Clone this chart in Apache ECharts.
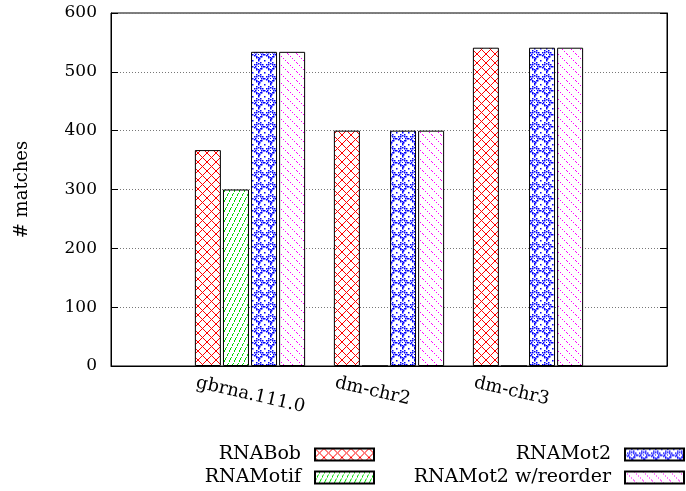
<!DOCTYPE html>
<html>
<head>
<meta charset="utf-8">
<script src="https://cdn.jsdelivr.net/npm/echarts@6/dist/echarts.min.js"></script>
<style>
html,body{margin:0;padding:0;background:#fff;}
#main{width:686px;height:491px;}
</style>
</head>
<body>
<div id="main"></div>
<script>
// ---- data ----
const categories = ['gbrna.111.0', 'dm-chr2', 'dm-chr3'];
const seriesNames = ['RNABob', 'RNAMotif', 'RNAMot2', 'RNAMot2 w/reorder'];
const rnaBob = [367, 400, 541];
const rnaMotif = [300, 0, 0];
const rnaMot2 = [534, 400, 541];
const rnaMot2Reorder = [534, 400, 541];
const yTicks = [0, 100, 200, 300, 400, 500, 600];

// ---- patterns ----
function makeCanvas(w, h, draw) {
  const c = document.createElement('canvas');
  c.width = w; c.height = h;
  const ctx = c.getContext('2d');
  ctx.fillStyle = '#fff';
  ctx.fillRect(0, 0, w, h);
  draw(ctx, w, h);
  return c;
}
const patBob = makeCanvas(9, 9, (ctx, w, h) => {
  ctx.strokeStyle = '#ff0000'; ctx.lineWidth = 1;
  ctx.beginPath();
  ctx.moveTo(0, 0); ctx.lineTo(w, h);
  ctx.moveTo(w, 0); ctx.lineTo(0, h);
  ctx.stroke();
});
const patMotif = makeCanvas(5, 10, (ctx, w, h) => {
  ctx.fillStyle = '#00dd00';
  for (let i = 0; i < 10; i++) {
    if (i % 4 === 3) continue;
    const y = h - 1 - i;
    const x = Math.floor(i * w / h);
    ctx.fillRect(x, y, 1, 1);
  }
});
const patMot2 = makeCanvas(12, 12, (ctx, w, h) => {
  ctx.fillStyle = '#0000ff';
  for (let i = 0; i < 6; i += 2) {
    ctx.fillRect(6 + i, i, 1.5, 1.5);
    ctx.fillRect(11 - i, 6 + i, 1.5, 1.5);
    ctx.fillRect(6 - i, 11 - i, 1.5, 1.5);
    ctx.fillRect(i, 6 - i, 1.5, 1.5);
  }
  const pts = [[6,3],[9,6],[6,9],[3,6],[4,4],[8,4],[4,8],[8,8]];
  pts.forEach(p => ctx.fillRect(p[0], p[1], 1.5, 1.5));
  ctx.fillRect(0, 0, 1.5, 1.5);
  ctx.fillRect(6, 6, 1, 1);
});
const patReorder = makeCanvas(9, 9, (ctx, w, h) => {
  ctx.fillStyle = '#ff00ff';
  for (let i = 0; i < 9; i += 2) ctx.fillRect(i, i, 1, 1);
});
const patterns = [patBob, patMotif, patMot2, patReorder];
const values = [rnaBob, rnaMotif, rnaMot2, rnaMot2Reorder];

const fontFam = 'DejaVu Serif';
const paddedCats = [''].concat(categories, ['']);
function pad(arr) { return [null].concat(arr, [null]); }

const series = seriesNames.map((name, i) => ({
  name: name,
  type: 'bar',
  data: pad(values[i]),
  barWidth: 26,
  barGap: '8%',
  itemStyle: {
    color: { image: patterns[i], repeat: 'repeat' },
    borderColor: '#000',
    borderWidth: 1
  },
  emphasis: { disabled: true },
  animation: false
}));

const legendPos = [
  { right: 311, top: 445 },
  { right: 311, top: 468 },
  { right: 1, top: 445 },
  { right: 1, top: 468 }
];
const legends = seriesNames.map((name, i) => ({
  data: [name],
  right: legendPos[i].right,
  top: legendPos[i].top,
  align: 'right',
  orient: 'vertical',
  itemWidth: 59,
  itemHeight: 12,
  selectedMode: false,
  padding: 0,
  icon: 'rect',
  textStyle: { fontFamily: fontFam, fontSize: 19, color: '#000', padding: [0, 9, 0, 0] }
}));

const chart = echarts.init(document.getElementById('main'), null, { renderer: 'canvas' });
chart.setOption({
  animation: false,
  backgroundColor: '#fff',
  legend: legends,
  grid: { left: 111, right: 19, top: 13, bottom: 125, show: true, borderColor: '#000', borderWidth: 1, backgroundColor: 'transparent' },
  xAxis: {
    type: 'category',
    data: paddedCats,
    boundaryGap: false,
    axisLine: { show: true, lineStyle: { color: '#000', width: 1 } },
    axisTick: { show: false },
    splitLine: { show: false },
    axisLabel: {
      interval: 0,
      rotate: -13,
      align: 'center',
      width: 110,
      overflow: 'none',
      margin: 29,
      formatter: function (v) { return v ? '{a|' + v + '}' : ''; },
      rich: { a: { align: 'left', fontFamily: fontFam, fontSize: 18, color: '#000' } },
      fontFamily: fontFam,
      fontSize: 18,
      color: '#000'
    }
  },
  yAxis: [{
    type: 'value',
    min: yTicks[0],
    max: yTicks[yTicks.length - 1],
    interval: 100,
    name: '# matches',
    nameLocation: 'middle',
    nameGap: 80,
    nameTextStyle: { fontFamily: fontFam, fontSize: 18, color: '#000' },
    axisLine: { show: true, lineStyle: { color: '#000', width: 1 } },
    axisTick: { show: true, inside: true, length: 7, lineStyle: { color: '#000' } },
    axisLabel: { fontFamily: fontFam, fontSize: 17, color: '#000', margin: 14 },
    splitLine: { show: true, lineStyle: { color: '#777', type: [1, 2], width: 1 } }
  }, {
    type: 'value',
    position: 'right',
    min: yTicks[0],
    max: yTicks[yTicks.length - 1],
    interval: 100,
    axisLine: { show: true, lineStyle: { color: '#000', width: 1 } },
    axisTick: { show: true, inside: true, length: 7, lineStyle: { color: '#000' } },
    axisLabel: { show: false },
    splitLine: { show: false }
  }],
  series: series
});
</script>
</body>
</html>
